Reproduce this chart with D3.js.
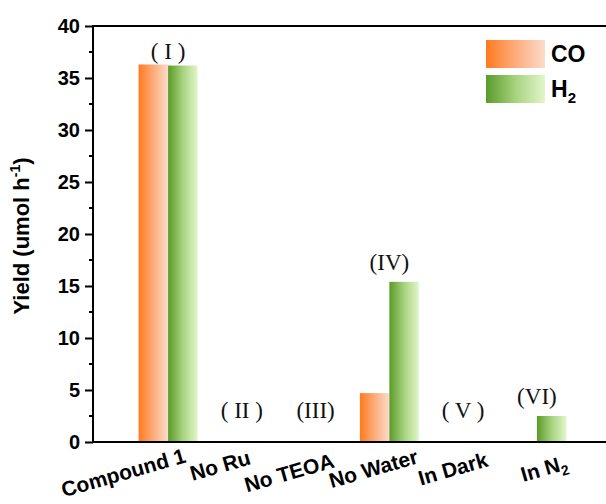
<!DOCTYPE html>
<html>
<head>
<meta charset="utf-8">
<script src="https://cdn.jsdelivr.net/npm/d3@7"></script>
<style>
  html, body { margin: 0; padding: 0; background: #fff; }
  svg { display: block; }
</style>
</head>
<body>
<svg id="chart" width="606" height="504"></svg>
<script>
// Photocatalytic yield under different control conditions
const categories = ["Compound 1", "No Ru", "No TEOA", "No Water", "In Dark", "In N2"];
const coYield = [36.3, 0, 0, 4.7, 0, 0];
const h2Yield = [36.2, 0, 0, 15.4, 0, 2.5];
const conditionTags = ["( I )", "( II )", "(III)", "(IV)", "( V )", "(VI)"];
const yTicks = [0, 5, 10, 15, 20, 25, 30, 35, 40];
const seriesNames = ["CO", "H2"];

// Layout tweaks for the slanted category labels (dx from band centre, dy below axis)
const labelNudge = [[19, 20], [10, 22], [20, 25], [30, 21], [26, 24], [32, 27]];
const tagGap = [5, 12, 12, 12, 12, 12];

const svg = d3.select("#chart");
const plotLeft = 93, plotRight = 606, plotTop = 26, plotBottom = 442;

const defs = svg.append("defs");
function grad(id, stops) {
  const g = defs.append("linearGradient").attr("id", id)
    .attr("x1", "0%").attr("x2", "100%").attr("y1", "0%").attr("y2", "0%");
  stops.forEach(([o, c]) => g.append("stop").attr("offset", o).attr("stop-color", c));
}
grad("gCO", [["0%", "#ff7a1e"], ["50%", "#fcac7c"], ["100%", "#fcdccb"]]);
grad("gH2", [["0%", "#5a9a28"], ["50%", "#a7d37f"], ["100%", "#e2f6ca"]]);
const fills = ["url(#gCO)", "url(#gH2)"];

const x = d3.scaleBand().domain(categories).range([131.2, 573.8]).padding(0);
const xs = d3.scaleBand().domain(seriesNames)
  .range([x.bandwidth() / 2 - 29.5, x.bandwidth() / 2 + 29.5]);
const y = d3.scaleLinear().domain([0, 40]).range([plotBottom, plotTop]);

const rows = categories.map((c, i) => ({ cat: c, vals: [coYield[i], h2Yield[i]] }));

// bars
const groups = svg.append("g").selectAll("g").data(rows).join("g")
  .attr("transform", d => `translate(${x(d.cat)},0)`);
groups.selectAll("rect")
  .data(d => d.vals.map((v, k) => ({ v, k })).filter(e => e.v > 0))
  .join("rect")
  .attr("x", d => xs(seriesNames[d.k]))
  .attr("width", xs.bandwidth())
  .attr("y", d => y(d.v))
  .attr("height", d => y(0) - y(d.v))
  .attr("fill", d => fills[d.k]);

// condition tags above each group
svg.append("g").selectAll("text").data(rows).join("text")
  .attr("x", d => x(d.cat) + x.bandwidth() / 2)
  .attr("y", (d, i) => Math.min(y(d3.max(d.vals)) - tagGap[i], y(0) - 24))
  .attr("text-anchor", "middle")
  .attr("font-family", "'Liberation Serif', 'Times New Roman', serif")
  .attr("font-size", 23)
  .attr("fill", "#111")
  .text((d, i) => conditionTags[i]);

// y axis with minor ticks
const yAxis = d3.axisLeft(y).tickValues(yTicks).tickSize(8).tickPadding(5);
const gy = svg.append("g").attr("transform", `translate(${plotLeft},0)`).call(yAxis);
gy.select(".domain").remove();
gy.selectAll(".tick line").attr("stroke", "#000").attr("stroke-width", 2);
gy.selectAll(".tick text")
  .attr("font-family", "'Liberation Sans', Arial, sans-serif")
  .attr("font-weight", "bold").attr("font-size", 20).attr("fill", "#000");
const minor = d3.range(2.5, 40, 5);
svg.append("g").selectAll("line").data(minor).join("line")
  .attr("x1", plotLeft - 4).attr("x2", plotLeft)
  .attr("y1", d => y(d)).attr("y2", d => y(d))
  .attr("stroke", "#000").attr("stroke-width", 2);

// frame: left, top, bottom
svg.append("path")
  .attr("d", `M${plotRight},${plotTop}H${plotLeft}V${plotBottom}H${plotRight}`)
  .attr("fill", "none").attr("stroke", "#000").attr("stroke-width", 2);

// slanted category labels
const cl = svg.append("g").selectAll("text").data(categories).join("text")
  .attr("transform", (d, i) => {
    const cx = x(d) + x.bandwidth() / 2 + labelNudge[i][0];
    const cy = plotBottom + labelNudge[i][1];
    return `translate(${cx},${cy}) rotate(-16)`;
  })
  .attr("text-anchor", "end")
  .attr("font-family", "'Liberation Sans', Arial, sans-serif")
  .attr("font-weight", "bold").attr("font-size", 21).attr("fill", "#000");
cl.each(function (d) {
  const t = d3.select(this);
  const m = d.match(/^(.*N)2$/);
  if (m) {
    t.append("tspan").text(m[1]);
    t.append("tspan").attr("font-size", 14).attr("dy", 5).text("2");
  } else {
    t.text(d);
  }
});

// y axis title
const yt = svg.append("text")
  .attr("transform", `translate(29,${(plotTop + plotBottom) / 2 + 2}) rotate(-90)`)
  .attr("text-anchor", "middle")
  .attr("font-family", "'Liberation Sans', Arial, sans-serif")
  .attr("font-weight", "bold").attr("font-size", 22).attr("fill", "#000");
yt.append("tspan").text("Yield (umol h");
yt.append("tspan").attr("font-size", 14).attr("dy", -9).text("-1");
yt.append("tspan").attr("dy", 9).text(")");

// legend
const lg = svg.append("g").attr("transform", "translate(486,40)");
seriesNames.forEach((s, k) => {
  const row = lg.append("g").attr("transform", `translate(0,${k * 35})`);
  row.append("rect").attr("width", 59).attr("height", 28).attr("fill", fills[k]);
  const t = row.append("text").attr("x", 65).attr("y", 22)
    .attr("font-family", "'Liberation Sans', Arial, sans-serif")
    .attr("font-weight", "bold").attr("font-size", 23).attr("fill", "#000");
  if (s === "H2") {
    t.append("tspan").text("H");
    t.append("tspan").attr("font-size", 15).attr("dy", 6).text("2");
  } else {
    t.text(s);
  }
});
</script>
</body>
</html>
